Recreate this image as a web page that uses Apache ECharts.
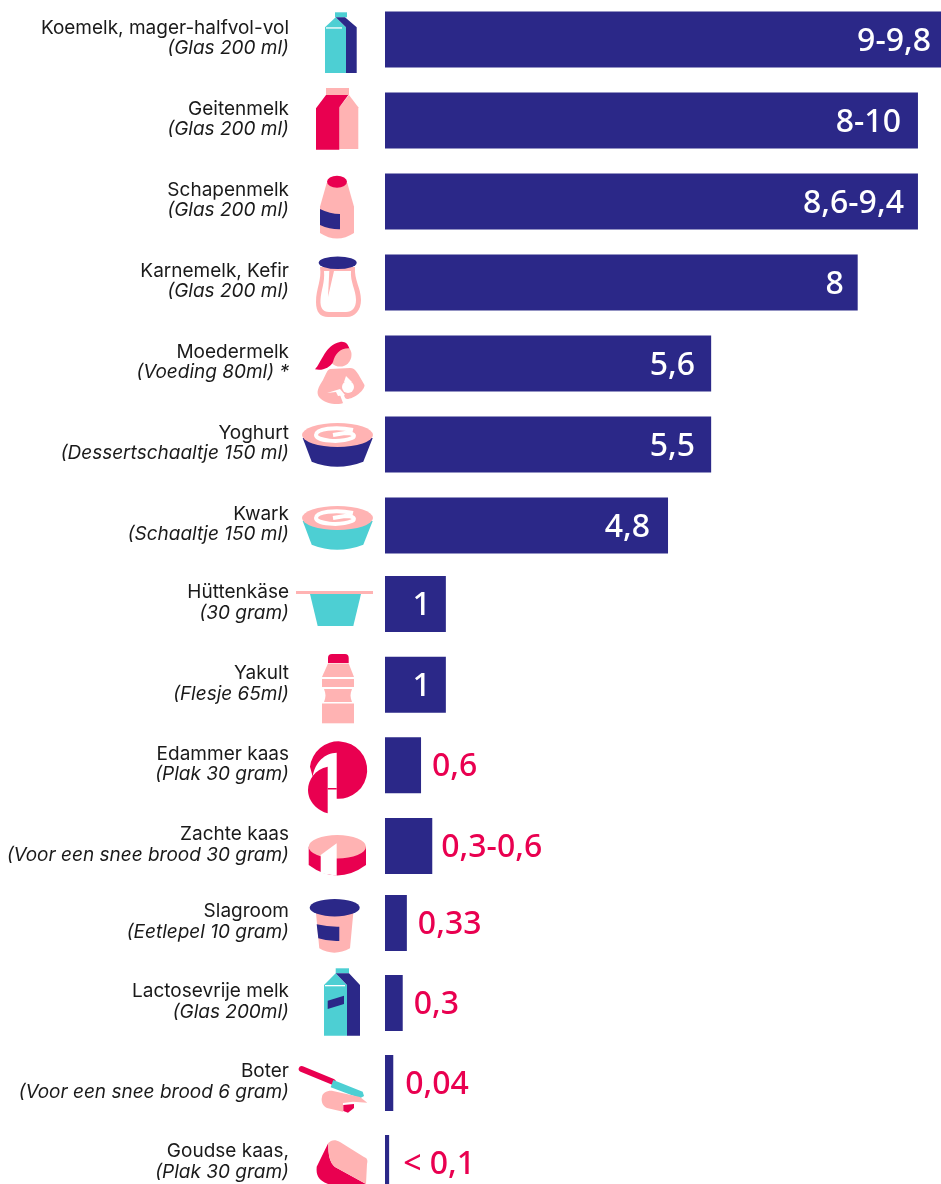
<!DOCTYPE html>
<html>
<head>
<meta charset="utf-8">
<title>Lactose</title>
<script src="https://cdn.jsdelivr.net/npm/echarts@6/dist/echarts.min.js"></script>
<style>
  html, body { margin: 0; padding: 0; background: #fff; overflow: hidden; }
  #chart { width: 941px; height: 1184px; }
</style>
</head>
<body>
<div id="chart"></div>
<script>
const products = ['Koemelk, mager-halfvol-vol', 'Geitenmelk', 'Schapenmelk', 'Karnemelk, Kefir', 'Moedermelk', 'Yoghurt', 'Kwark', 'Hüttenkäse', 'Yakult', 'Edammer kaas', 'Zachte kaas', 'Slagroom', 'Lactosevrije melk', 'Boter', 'Goudse kaas,'];
const portions = ['(Glas 200 ml)', '(Glas 200 ml)', '(Glas 200 ml)', '(Glas 200 ml)', '(Voeding 80ml) *', '(Dessertschaaltje 150 ml)', '(Schaaltje 150 ml)', '(30 gram)', '(Flesje 65ml)', '(Plak 30 gram)', '(Voor een snee brood 30 gram)', '(Eetlepel 10 gram)', '(Glas 200ml)', '(Voor een snee brood 6 gram)', '(Plak 30 gram)'];
// bar lengths, the printed text is in valueLabels
const barValues = [9.8, 9.02, 9.02, 8, 5.52, 5.52, 4.79, 1.03, 1.03, 0.61, 0.8, 0.37, 0.3, 0.14, 0.07];
const valueLabels = ['9-9,8', '8-10', '8,6-9,4', '8', '5,6', '5,5', '4,8', '1', '1', '0,6', '0,3-0,6', '0,33', '0,3', '0,04', '< 0,1'];
const labelGaps = [33, 17, 14, 14, 16, 16, 18, 15, 15, 11, 9, 11, 11, 12, 14];

const NAVY = '#2b2888';
const TEAL = '#4dcfd3';
const RED = '#e90050';
const PINK = '#ffb3b3';
const WHITE = '#ffffff';
const FONT = 'Inter, "Noto Sans", sans-serif';
const VALUE_FONT = '"Noto Sans", sans-serif';

// the rows sit in three blocks with a slightly different pitch,
// top is the centre of the first row because boundaryGap is off
const blocks = [
  { from: 0, to: 7, top: 39.5, pitch: 81 },
  { from: 7, to: 11, top: 604, pitch: 80.67 },
  { from: 11, to: 15, top: 923, pitch: 80 },
];

function p(d, fill) { return { type: 'path', shape: { pathData: d }, style: { fill } }; }
function el(cx, cy, rx, ry, fill) {
  return p(`M${cx - rx} ${cy} A${rx} ${ry} 0 1 1 ${cx + rx} ${cy} A${rx} ${ry} 0 1 1 ${cx - rx} ${cy} Z`, fill);
}
function bowl(dy, color) {
  return [
    p(`M302.7 ${438 + dy} L311.7 ${461.7 + dy} Q337 ${472 + dy} 363.3 ${461.7 + dy} L372.7 ${438 + dy} Z`, color),
    el(337.5, 435 + dy, 35.5, 12, PINK),
    {
      type: 'path',
      shape: { pathData: `M353 ${430 + dy} C335 ${426 + dy} 316 ${429 + dy} 316 ${435 + dy} C316 ${441 + dy} 340 ${443 + dy} 352 ${438 + dy} C356 ${436 + dy} 354 ${433 + dy} 345 ${433 + dy} L333 ${435 + dy}` },
      style: { fill: 'none', stroke: WHITE, lineWidth: 4 },
    },
  ];
}

const icons = [
  // koemelk
  p('M335 12.3 H347 V17.3 H335 Z', TEAL),
  p('M325 27.3 L335.7 17.3 L346 27.3 V73 H325 Z', TEAL),
  p('M335.7 17.3 H345 L356.7 27.3 V73 H346 V27.3 Z', NAVY),
  p('M326 27.3 H342 V28.6 H326 Z', WHITE),
  // geitenmelk
  p('M326 88 H349 V95 H326 Z', PINK),
  p('M339.3 107.3 L349 95 L358.3 107.3 V149 H339.3 Z', PINK),
  p('M316 108.3 L326 95 H348.3 L339.3 107.3 V149.7 H316 Z', RED),
  // schapenmelk
  p('M326.7 183 L320 206.7 V233 Q337 244 354 233 V206.7 L347.3 183 Z', PINK),
  el(337, 181.7, 10, 6, RED),
  p('M320 209 Q330 214 340 214 V229.3 Q330 229.5 320 225 Z', NAVY),
  // karnemelk
  p('M320 267 C322 280 316 288 316 302 C316 312 320 317 328 317 L347 317 C355 317 361 310 361 300 C361 288 354 280 355 267 Z', PINK),
  p('M324 271 L351 271 C350 282 356 290 356 300 C356 308 352 312 346 312 L329 312 C323 312 320 308 320.5 300 C321 290 325 283 324 271 Z', WHITE),
  p('M329.3 271 L334 271 L328 297 Z', PINK),
  el(337.7, 262.7, 19, 6.3, NAVY),
  // moedermelk
  el(340, 355, 11.5, 11.5, PINK),
  p('M315 369.3 C322 362 325 345 340 342 C345 341 348 344 349.3 348.3 C340 348 335 354 333 362 C330 368 322 371 315 369.3 Z', RED),
  p('M330 369 L350 368 C356 368 358 374 364.5 385 C365 390 354 399 347 399 C345 399 344 396 344 394 L340 395 L343 403 C340 405 325 405 319 397 C316 392 318 388 323 380 C326 374 327 370 330 369 Z', PINK),
  el(348, 387, 6, 6, WHITE),
  p('M346 376 L352 382 L344 382 Z', WHITE),
  p('M327 393 L340 389 L345 395 L338 396 L336 392 Z', WHITE),
  // yoghurt, kwark
  ...bowl(0, NAVY),
  ...bowl(83, TEAL),
  // huttenkase
  p('M296 591 H373 V594 H296 Z', PINK),
  p('M310 594 H361 L353.3 626 H317.7 Z', TEAL),
  // yakult
  p('M328 663 V658 Q328 654 332 654 H345 Q348.7 654 348.7 658 V663 Z', RED),
  p('M328 663.5 H348.7 L354 677 H322 Z', PINK),
  p('M322 679 H354 V687 H322 Z', PINK),
  p('M324 689 H352 C350 694 350 697 352 702 H324 C326 697 326 694 324 689 Z', PINK),
  p('M322 703.5 H354 V723.3 H322 Z', PINK),
  // edammer
  p('M336.7 798.7 A28.7 28.7 0 1 0 310 766.7 L312.7 776.7 C315 762 325 753 336.7 752.7 Z', RED),
  p('M327.7 766.7 C315 769 308 780 308 790 C308 802 318 811 327.7 813.3 Z', RED),
  p('M327.7 788 H336.7 V789.5 H327.7 Z', RED),
  // zachte kaas
  p('M308.7 846.7 V865 Q337 886 366 865 V846.7 Z', RED),
  el(337.3, 846.7, 28.7, 11.7, PINK),
  p('M320.7 855 L336.7 843.3 V875.7 L320.7 873.3 Z', WHITE),
  // slagroom
  p('M316 913 H353.3 L350 948.3 Q334 957 319.3 948.3 Z', PINK),
  el(334.7, 907.7, 25, 8.7, NAVY),
  p('M316.7 924.3 Q328 927 339.3 926.7 V941 Q328 941.5 318.3 938.3 Z', NAVY),
  // lactosevrij
  p('M335.7 968.3 H349 V973.3 H335.7 Z', TEAL),
  p('M324 985 L335.7 973.3 L347 985 V1035.7 H324 Z', TEAL),
  p('M335.7 973.3 H349 L360 985 V1035.7 H347 V985 Z', NAVY),
  p('M325 985 H345 V986.3 H325 Z', WHITE),
  p('M327.7 1000.7 L344 995.7 V1004 L327.7 1009 Z', NAVY),
  // boter
  {
    type: 'line',
    shape: { x1: 301.7, y1: 1069, x2: 332.7, y2: 1081.7 },
    style: { stroke: RED, lineWidth: 6, lineCap: 'round' },
  },
  p('M330.7 1087.3 L333.3 1080 L362.7 1091.7 L364 1096 L360 1098.3 Z', TEAL),
  p('M322 1097 C322 1093 328 1090 333 1091 L360 1097 L367.3 1102.7 L353 1101.7 L343 1103 L343 1111.7 L327 1108 C322 1106 321 1100 322 1097 Z', PINK),
  p('M343.3 1105 L354 1104 V1108 L348 1112.7 L343.3 1111 Z', RED),
  // goudse kaas
  p('M328.3 1143 L316.7 1166.7 C316 1175 318 1180 328 1184 L366 1184 L335 1167 C330 1163 328 1155 328.3 1143 Z', RED),
  p('M328.3 1143 C328 1155 330 1163 335 1167 L366 1184 L367 1164 C368 1160 367 1158 364 1157 L340 1142 C335 1139 331 1140 328.3 1143 Z', PINK),
];

const myChart = echarts.init(document.getElementById('chart'), null, { renderer: 'canvas' });

const grids = [];
const xAxes = [];
const yAxes = [];
const series = [];
blocks.forEach((b, i) => {
  const rows = products.map((name, idx) => idx).slice(b.from, b.to);
  grids.push({ left: 385, right: 0, top: b.top, height: b.pitch * (rows.length - 1), containLabel: false });
  xAxes.push({ type: 'value', gridIndex: i, min: 0, max: 9.41, show: false });
  yAxes.push({
    type: 'category',
    gridIndex: i,
    inverse: true,
    boundaryGap: false,
    data: rows.map((idx) => products[idx]),
    axisLine: { show: false },
    axisTick: { show: false },
    splitLine: { show: false },
    axisLabel: {
      margin: 96,
      interval: 0,
      padding: [0, 0, 2, 0],
      formatter(value, index) {
        return `{a|${value}}\n{b|${portions[rows[index]]}}`;
      },
      rich: {
        a: { fontFamily: FONT, fontSize: 19, lineHeight: 20.5, color: '#1a1a1a', align: 'right' },
        b: { fontFamily: FONT, fontSize: 19, lineHeight: 20.5, fontStyle: 'italic', color: '#1a1a1a', align: 'right' },
      },
    },
  });
  series.push({
    type: 'bar',
    xAxisIndex: i,
    yAxisIndex: i,
    barWidth: 56,
    clip: false,
    silent: true,
    itemStyle: { color: NAVY },
    data: rows.map((idx) => {
      const inside = barValues[idx] >= 1;
      return {
        value: barValues[idx],
        label: {
          show: true,
          position: inside ? 'insideRight' : 'right',
          distance: labelGaps[idx],
          offset: [0, 2],
          formatter: valueLabels[idx],
          fontFamily: VALUE_FONT,
          fontSize: 32,
          fontWeight: 500,
          color: inside ? WHITE : RED,
        },
      };
    }),
  });
});

// product pictures, one custom item that returns the whole drawing
series.push({
  type: 'custom',
  coordinateSystem: 'none',
  silent: true,
  data: [0],
  renderItem() {
    return { type: 'group', children: icons };
  },
});

myChart.setOption({
  animation: false,
  backgroundColor: '#fff',
  grid: grids,
  xAxis: xAxes,
  yAxis: yAxes,
  series,
});
</script>
</body>
</html>
